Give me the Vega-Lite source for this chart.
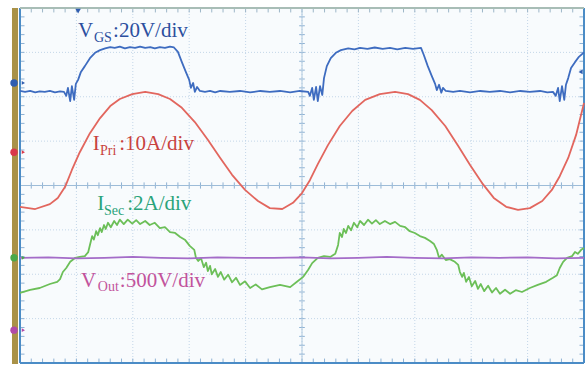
{
  "$schema": "https://vega.github.io/schema/vega-lite/v6.json",
  "width": 564,
  "height": 355,
  "autosize": {"type": "none"},
  "padding": {"left": 20, "top": 8, "right": 3, "bottom": 2},
  "background": "#ffffff",
  "config": {"view": {"stroke": null, "fill": "#f8fbfd"}},
  "datasets": {
    "xt": [{"t":0},{"t":0.2},{"t":0.4},{"t":0.6},{"t":0.8},{"t":1},{"t":1.2},{"t":1.4},{"t":1.6},{"t":1.8},{"t":2},{"t":2.2},{"t":2.4},{"t":2.6},{"t":2.8},{"t":3},{"t":3.2},{"t":3.4},{"t":3.6},{"t":3.8},{"t":4},{"t":4.2},{"t":4.4},{"t":4.6},{"t":4.8},{"t":5},{"t":5.2},{"t":5.4},{"t":5.6},{"t":5.8},{"t":6},{"t":6.2},{"t":6.4},{"t":6.6},{"t":6.8},{"t":7},{"t":7.2},{"t":7.4},{"t":7.6},{"t":7.8},{"t":8},{"t":8.2},{"t":8.4},{"t":8.6},{"t":8.8},{"t":9},{"t":9.2},{"t":9.4},{"t":9.6},{"t":9.8},{"t":10}],
    "yt": [{"v":-4},{"v":-3.8},{"v":-3.6},{"v":-3.4},{"v":-3.2},{"v":-3},{"v":-2.8},{"v":-2.6},{"v":-2.4},{"v":-2.2},{"v":-2},{"v":-1.8},{"v":-1.6},{"v":-1.4},{"v":-1.2},{"v":-1},{"v":-0.8},{"v":-0.6},{"v":-0.4},{"v":-0.2},{"v":0},{"v":0.2},{"v":0.4},{"v":0.6},{"v":0.8},{"v":1},{"v":1.2},{"v":1.4},{"v":1.6},{"v":1.8},{"v":2},{"v":2.2},{"v":2.4},{"v":2.6},{"v":2.8},{"v":3},{"v":3.2},{"v":3.4},{"v":3.6},{"v":3.8},{"v":4}],
    "traces": [
      {"ch":"VGS","t":0,"v":2.13},{"ch":"VGS","t":0.09,"v":2.11},{"ch":"VGS","t":0.18,"v":2.13},{"ch":"VGS","t":0.27,"v":2.10},{"ch":"VGS","t":0.35,"v":2.12},{"ch":"VGS","t":0.44,"v":2.11},{"ch":"VGS","t":0.53,"v":2.13},{"ch":"VGS","t":0.62,"v":2.10},{"ch":"VGS","t":0.71,"v":2.12},{"ch":"VGS","t":0.78,"v":2.11},{"ch":"VGS","t":0.82,"v":2.02},{"ch":"VGS","t":0.85,"v":2.2},{"ch":"VGS","t":0.89,"v":1.9},{"ch":"VGS","t":0.92,"v":2.24},{"ch":"VGS","t":0.96,"v":1.93},{"ch":"VGS","t":0.99,"v":2.29},{"ch":"VGS","t":1.03,"v":2.38},{"ch":"VGS","t":1.08,"v":2.56},{"ch":"VGS","t":1.15,"v":2.69},{"ch":"VGS","t":1.24,"v":2.87},{"ch":"VGS","t":1.33,"v":2.99},{"ch":"VGS","t":1.42,"v":3.05},{"ch":"VGS","t":1.51,"v":3.09},{"ch":"VGS","t":1.6,"v":3.12},{"ch":"VGS","t":1.68,"v":3.10},{"ch":"VGS","t":1.77,"v":3.13},{"ch":"VGS","t":1.86,"v":3.09},{"ch":"VGS","t":1.95,"v":3.12},{"ch":"VGS","t":2.04,"v":3.10},{"ch":"VGS","t":2.13,"v":3.13},{"ch":"VGS","t":2.22,"v":3.10},{"ch":"VGS","t":2.31,"v":3.12},{"ch":"VGS","t":2.39,"v":3.09},{"ch":"VGS","t":2.48,"v":3.12},{"ch":"VGS","t":2.57,"v":3.10},{"ch":"VGS","t":2.66,"v":3.13},{"ch":"VGS","t":2.73,"v":3.11},{"ch":"VGS","t":2.80,"v":3.01},{"ch":"VGS","t":2.87,"v":2.78},{"ch":"VGS","t":2.94,"v":2.56},{"ch":"VGS","t":3.00,"v":2.38},{"ch":"VGS","t":3.03,"v":2.2},{"ch":"VGS","t":3.07,"v":2.31},{"ch":"VGS","t":3.10,"v":2.11},{"ch":"VGS","t":3.14,"v":2.22},{"ch":"VGS","t":3.19,"v":2.13},{"ch":"VGS","t":3.28,"v":2.11},{"ch":"VGS","t":3.37,"v":2.13},{"ch":"VGS","t":3.46,"v":2.10},{"ch":"VGS","t":3.55,"v":2.13},{"ch":"VGS","t":3.72,"v":2.11},{"ch":"VGS","t":3.90,"v":2.13},{"ch":"VGS","t":4.08,"v":2.10},{"ch":"VGS","t":4.26,"v":2.13},{"ch":"VGS","t":4.43,"v":2.11},{"ch":"VGS","t":4.61,"v":2.13},{"ch":"VGS","t":4.79,"v":2.10},{"ch":"VGS","t":4.96,"v":2.13},{"ch":"VGS","t":5.11,"v":2.11},{"ch":"VGS","t":5.14,"v":2.02},{"ch":"VGS","t":5.18,"v":2.2},{"ch":"VGS","t":5.21,"v":1.93},{"ch":"VGS","t":5.25,"v":2.22},{"ch":"VGS","t":5.28,"v":1.9},{"ch":"VGS","t":5.32,"v":2.24},{"ch":"VGS","t":5.36,"v":2.04},{"ch":"VGS","t":5.39,"v":2.42},{"ch":"VGS","t":5.44,"v":2.69},{"ch":"VGS","t":5.51,"v":2.87},{"ch":"VGS","t":5.60,"v":2.99},{"ch":"VGS","t":5.69,"v":3.05},{"ch":"VGS","t":5.82,"v":3.09},{"ch":"VGS","t":5.93,"v":3.07},{"ch":"VGS","t":6.03,"v":3.10},{"ch":"VGS","t":6.16,"v":3.08},{"ch":"VGS","t":6.29,"v":3.11},{"ch":"VGS","t":6.43,"v":3.08},{"ch":"VGS","t":6.56,"v":3.10},{"ch":"VGS","t":6.69,"v":3.07},{"ch":"VGS","t":6.83,"v":3.10},{"ch":"VGS","t":6.97,"v":3.08},{"ch":"VGS","t":7.11,"v":3.10},{"ch":"VGS","t":7.16,"v":2.94},{"ch":"VGS","t":7.23,"v":2.69},{"ch":"VGS","t":7.30,"v":2.47},{"ch":"VGS","t":7.36,"v":2.29},{"ch":"VGS","t":7.39,"v":2.15},{"ch":"VGS","t":7.43,"v":2.27},{"ch":"VGS","t":7.47,"v":2.09},{"ch":"VGS","t":7.50,"v":2.2},{"ch":"VGS","t":7.55,"v":2.13},{"ch":"VGS","t":7.68,"v":2.11},{"ch":"VGS","t":7.80,"v":2.13},{"ch":"VGS","t":7.98,"v":2.10},{"ch":"VGS","t":8.16,"v":2.13},{"ch":"VGS","t":8.33,"v":2.11},{"ch":"VGS","t":8.51,"v":2.13},{"ch":"VGS","t":8.69,"v":2.10},{"ch":"VGS","t":8.87,"v":2.13},{"ch":"VGS","t":9.04,"v":2.11},{"ch":"VGS","t":9.22,"v":2.13},{"ch":"VGS","t":9.35,"v":2.10},{"ch":"VGS","t":9.45,"v":2.11},{"ch":"VGS","t":9.50,"v":2.02},{"ch":"VGS","t":9.54,"v":2.2},{"ch":"VGS","t":9.57,"v":1.9},{"ch":"VGS","t":9.61,"v":2.24},{"ch":"VGS","t":9.65,"v":1.93},{"ch":"VGS","t":9.68,"v":2.27},{"ch":"VGS","t":9.72,"v":2.42},{"ch":"VGS","t":9.77,"v":2.65},{"ch":"VGS","t":9.84,"v":2.78},{"ch":"VGS","t":9.91,"v":2.9},{"ch":"VGS","t":10,"v":3.0},

      {"ch":"IPri","t":0,"v":-0.48},{"ch":"IPri","t":0.27,"v":-0.53},{"ch":"IPri","t":0.53,"v":-0.42},{"ch":"IPri","t":0.67,"v":-0.28},{"ch":"IPri","t":0.80,"v":-0.03},{"ch":"IPri","t":0.92,"v":0.35},{"ch":"IPri","t":1.06,"v":0.75},{"ch":"IPri","t":1.24,"v":1.18},{"ch":"IPri","t":1.42,"v":1.52},{"ch":"IPri","t":1.60,"v":1.79},{"ch":"IPri","t":1.77,"v":1.95},{"ch":"IPri","t":1.99,"v":2.06},{"ch":"IPri","t":2.22,"v":2.11},{"ch":"IPri","t":2.45,"v":2.06},{"ch":"IPri","t":2.66,"v":1.95},{"ch":"IPri","t":2.87,"v":1.75},{"ch":"IPri","t":3.10,"v":1.43},{"ch":"IPri","t":3.33,"v":1.03},{"ch":"IPri","t":3.55,"v":0.62},{"ch":"IPri","t":3.76,"v":0.24},{"ch":"IPri","t":3.99,"v":-0.10},{"ch":"IPri","t":4.22,"v":-0.35},{"ch":"IPri","t":4.43,"v":-0.51},{"ch":"IPri","t":4.65,"v":-0.53},{"ch":"IPri","t":4.84,"v":-0.39},{"ch":"IPri","t":5.00,"v":-0.17},{"ch":"IPri","t":5.14,"v":0.12},{"ch":"IPri","t":5.28,"v":0.48},{"ch":"IPri","t":5.46,"v":0.91},{"ch":"IPri","t":5.67,"v":1.34},{"ch":"IPri","t":5.89,"v":1.68},{"ch":"IPri","t":6.12,"v":1.93},{"ch":"IPri","t":6.38,"v":2.06},{"ch":"IPri","t":6.65,"v":2.11},{"ch":"IPri","t":6.88,"v":2.06},{"ch":"IPri","t":7.09,"v":1.93},{"ch":"IPri","t":7.30,"v":1.70},{"ch":"IPri","t":7.54,"v":1.34},{"ch":"IPri","t":7.77,"v":0.89},{"ch":"IPri","t":7.98,"v":0.46},{"ch":"IPri","t":8.19,"v":0.06},{"ch":"IPri","t":8.40,"v":-0.28},{"ch":"IPri","t":8.62,"v":-0.48},{"ch":"IPri","t":8.83,"v":-0.55},{"ch":"IPri","t":9.04,"v":-0.51},{"ch":"IPri","t":9.26,"v":-0.35},{"ch":"IPri","t":9.43,"v":-0.10},{"ch":"IPri","t":9.57,"v":0.21},{"ch":"IPri","t":9.72,"v":0.62},{"ch":"IPri","t":9.86,"v":1.14},{"ch":"IPri","t":10,"v":1.86},

      {"ch":"ISec","t":0,"v":-2.42},{"ch":"ISec","t":0.18,"v":-2.35},{"ch":"ISec","t":0.35,"v":-2.31},{"ch":"ISec","t":0.53,"v":-2.22},{"ch":"ISec","t":0.66,"v":-2.17},{"ch":"ISec","t":0.71,"v":-2.11},{"ch":"ISec","t":0.76,"v":-1.95},{"ch":"ISec","t":0.82,"v":-1.86},{"ch":"ISec","t":0.89,"v":-1.72},{"ch":"ISec","t":0.98,"v":-1.63},{"ch":"ISec","t":1.06,"v":-1.61},{"ch":"ISec","t":1.15,"v":-1.59},{"ch":"ISec","t":1.21,"v":-1.50},{"ch":"ISec","t":1.24,"v":-1.34},{"ch":"ISec","t":1.28,"v":-1.14},{"ch":"ISec","t":1.31,"v":-1.22},{"ch":"ISec","t":1.35,"v":-1.03},{"ch":"ISec","t":1.38,"v":-1.12},{"ch":"ISec","t":1.42,"v":-0.96},{"ch":"ISec","t":1.45,"v":-1.05},{"ch":"ISec","t":1.49,"v":-0.89},{"ch":"ISec","t":1.52,"v":-0.98},{"ch":"ISec","t":1.56,"v":-0.84},{"ch":"ISec","t":1.61,"v":-0.94},{"ch":"ISec","t":1.67,"v":-0.80},{"ch":"ISec","t":1.72,"v":-0.89},{"ch":"ISec","t":1.77,"v":-0.77},{"ch":"ISec","t":1.84,"v":-0.87},{"ch":"ISec","t":1.91,"v":-0.77},{"ch":"ISec","t":1.99,"v":-0.86},{"ch":"ISec","t":2.06,"v":-0.78},{"ch":"ISec","t":2.13,"v":-0.87},{"ch":"ISec","t":2.22,"v":-0.80},{"ch":"ISec","t":2.30,"v":-0.89},{"ch":"ISec","t":2.39,"v":-0.84},{"ch":"ISec","t":2.48,"v":-0.96},{"ch":"ISec","t":2.57,"v":-0.94},{"ch":"ISec","t":2.66,"v":-1.05},{"ch":"ISec","t":2.75,"v":-1.07},{"ch":"ISec","t":2.84,"v":-1.16},{"ch":"ISec","t":2.93,"v":-1.23},{"ch":"ISec","t":3.01,"v":-1.36},{"ch":"ISec","t":3.09,"v":-1.45},{"ch":"ISec","t":3.12,"v":-1.63},{"ch":"ISec","t":3.16,"v":-1.70},{"ch":"ISec","t":3.21,"v":-1.64},{"ch":"ISec","t":3.26,"v":-1.84},{"ch":"ISec","t":3.30,"v":-1.74},{"ch":"ISec","t":3.33,"v":-1.93},{"ch":"ISec","t":3.37,"v":-1.81},{"ch":"ISec","t":3.40,"v":-2.00},{"ch":"ISec","t":3.46,"v":-1.88},{"ch":"ISec","t":3.51,"v":-2.06},{"ch":"ISec","t":3.56,"v":-1.95},{"ch":"ISec","t":3.62,"v":-2.12},{"ch":"ISec","t":3.69,"v":-2.01},{"ch":"ISec","t":3.76,"v":-2.18},{"ch":"ISec","t":3.83,"v":-2.08},{"ch":"ISec","t":3.90,"v":-2.24},{"ch":"ISec","t":3.99,"v":-2.16},{"ch":"ISec","t":4.08,"v":-2.31},{"ch":"ISec","t":4.18,"v":-2.23},{"ch":"ISec","t":4.29,"v":-2.34},{"ch":"ISec","t":4.43,"v":-2.29},{"ch":"ISec","t":4.61,"v":-2.24},{"ch":"ISec","t":4.79,"v":-2.29},{"ch":"ISec","t":4.91,"v":-2.17},{"ch":"ISec","t":5.02,"v":-2.06},{"ch":"ISec","t":5.11,"v":-1.90},{"ch":"ISec","t":5.18,"v":-1.75},{"ch":"ISec","t":5.28,"v":-1.63},{"ch":"ISec","t":5.39,"v":-1.59},{"ch":"ISec","t":5.50,"v":-1.61},{"ch":"ISec","t":5.59,"v":-1.54},{"ch":"ISec","t":5.64,"v":-1.34},{"ch":"ISec","t":5.67,"v":-1.07},{"ch":"ISec","t":5.71,"v":-1.16},{"ch":"ISec","t":5.74,"v":-0.98},{"ch":"ISec","t":5.78,"v":-1.07},{"ch":"ISec","t":5.82,"v":-0.91},{"ch":"ISec","t":5.87,"v":-1.01},{"ch":"ISec","t":5.92,"v":-0.84},{"ch":"ISec","t":5.98,"v":-0.94},{"ch":"ISec","t":6.03,"v":-0.80},{"ch":"ISec","t":6.10,"v":-0.89},{"ch":"ISec","t":6.17,"v":-0.77},{"ch":"ISec","t":6.24,"v":-0.86},{"ch":"ISec","t":6.31,"v":-0.78},{"ch":"ISec","t":6.38,"v":-0.87},{"ch":"ISec","t":6.47,"v":-0.80},{"ch":"ISec","t":6.56,"v":-0.87},{"ch":"ISec","t":6.65,"v":-0.82},{"ch":"ISec","t":6.74,"v":-0.91},{"ch":"ISec","t":6.83,"v":-0.94},{"ch":"ISec","t":6.91,"v":-1.03},{"ch":"ISec","t":7.00,"v":-1.07},{"ch":"ISec","t":7.09,"v":-1.14},{"ch":"ISec","t":7.18,"v":-1.18},{"ch":"ISec","t":7.27,"v":-1.25},{"ch":"ISec","t":7.34,"v":-1.32},{"ch":"ISec","t":7.39,"v":-1.45},{"ch":"ISec","t":7.43,"v":-1.63},{"ch":"ISec","t":7.48,"v":-1.56},{"ch":"ISec","t":7.55,"v":-1.68},{"ch":"ISec","t":7.62,"v":-1.66},{"ch":"ISec","t":7.71,"v":-1.72},{"ch":"ISec","t":7.77,"v":-1.79},{"ch":"ISec","t":7.80,"v":-1.95},{"ch":"ISec","t":7.84,"v":-2.06},{"ch":"ISec","t":7.87,"v":-1.97},{"ch":"ISec","t":7.91,"v":-2.17},{"ch":"ISec","t":7.96,"v":-2.06},{"ch":"ISec","t":8.01,"v":-2.27},{"ch":"ISec","t":8.07,"v":-2.15},{"ch":"ISec","t":8.12,"v":-2.33},{"ch":"ISec","t":8.17,"v":-2.22},{"ch":"ISec","t":8.23,"v":-2.38},{"ch":"ISec","t":8.30,"v":-2.26},{"ch":"ISec","t":8.37,"v":-2.41},{"ch":"ISec","t":8.44,"v":-2.31},{"ch":"ISec","t":8.51,"v":-2.44},{"ch":"ISec","t":8.60,"v":-2.35},{"ch":"ISec","t":8.69,"v":-2.44},{"ch":"ISec","t":8.79,"v":-2.36},{"ch":"ISec","t":8.90,"v":-2.40},{"ch":"ISec","t":9.04,"v":-2.31},{"ch":"ISec","t":9.18,"v":-2.24},{"ch":"ISec","t":9.33,"v":-2.17},{"ch":"ISec","t":9.45,"v":-2.08},{"ch":"ISec","t":9.52,"v":-2.02},{"ch":"ISec","t":9.57,"v":-1.86},{"ch":"ISec","t":9.63,"v":-1.72},{"ch":"ISec","t":9.70,"v":-1.63},{"ch":"ISec","t":9.79,"v":-1.59},{"ch":"ISec","t":9.84,"v":-1.50},{"ch":"ISec","t":9.89,"v":-1.54},{"ch":"ISec","t":9.95,"v":-1.45},{"ch":"ISec","t":10,"v":-1.41},

      {"ch":"VOut","t":0,"v":-1.63},{"ch":"VOut","t":0.5,"v":-1.62},{"ch":"VOut","t":1,"v":-1.64},{"ch":"VOut","t":1.5,"v":-1.63},{"ch":"VOut","t":2,"v":-1.61},{"ch":"VOut","t":2.5,"v":-1.63},{"ch":"VOut","t":3,"v":-1.64},{"ch":"VOut","t":3.5,"v":-1.62},{"ch":"VOut","t":4,"v":-1.63},{"ch":"VOut","t":4.5,"v":-1.63},{"ch":"VOut","t":5,"v":-1.62},{"ch":"VOut","t":5.5,"v":-1.64},{"ch":"VOut","t":6,"v":-1.63},{"ch":"VOut","t":6.5,"v":-1.61},{"ch":"VOut","t":7,"v":-1.63},{"ch":"VOut","t":7.5,"v":-1.64},{"ch":"VOut","t":8,"v":-1.62},{"ch":"VOut","t":8.5,"v":-1.63},{"ch":"VOut","t":9,"v":-1.62},{"ch":"VOut","t":9.5,"v":-1.64},{"ch":"VOut","t":10,"v":-1.63}
    ],
    "labMain": [
      {"k":"VGS","txt":"V","x":1.03,"y":3.35},{"k":"VGS","txt":":20V/div","x":1.65,"y":3.35},
      {"k":"IPri","txt":"I","x":1.29,"y":0.80},{"k":"IPri","txt":":10A/div","x":1.76,"y":0.80},
      {"k":"ISec","txt":"I","x":1.37,"y":-0.55},{"k":"ISec","txt":":2A/div","x":1.90,"y":-0.55},
      {"k":"VOut","txt":"V","x":1.08,"y":-2.29},{"k":"VOut","txt":":500V/div","x":1.77,"y":-2.29}
    ],
    "labSub": [
      {"k":"VGS","txt":"GS","x":1.31,"y":3.23},
      {"k":"IPri","txt":"Pri","x":1.42,"y":0.69},
      {"k":"ISec","txt":"Sec","x":1.49,"y":-0.66},
      {"k":"VOut","txt":"Out","x":1.38,"y":-2.38}
    ],
    "markers": [
      {"k":"VGS","x":-0.106,"y":2.31},
      {"k":"IPri","x":-0.106,"y":0.75},
      {"k":"ISec","x":-0.106,"y":-1.63},
      {"k":"VOut","x":-0.106,"y":-3.26}
    ],
    "bar": [{"x":-0.142,"x2":-0.035,"y":-4.02,"y2":4}]
  },
  "resolve": {"scale": {"color": "independent"}},
  "layer": [
    {
      "data": {"name": "xt"},
      "mark": {"type": "rule", "color": "#c3d6e8", "strokeWidth": 1, "strokeDash": [1, 2]},
      "transform": [{"filter": "datum.t > 0 && datum.t < 10 && datum.t % 1 == 0"}],
      "encoding": {
        "x": {"field": "t", "type": "quantitative", "scale": {"domain": [0, 10], "nice": false, "zero": false}, "axis": null},
        "y": {"datum": -4, "type": "quantitative", "scale": {"domain": [-4, 4], "nice": false, "zero": false}, "axis": null},
        "y2": {"datum": 4}
      }
    },
    {
      "data": {"name": "yt"},
      "mark": {"type": "rule", "color": "#c3d6e8", "strokeWidth": 1, "strokeDash": [1, 2]},
      "transform": [{"filter": "datum.v > -4 && datum.v < 4 && abs(datum.v % 1) < 0.01"}],
      "encoding": {
        "y": {"field": "v", "type": "quantitative"},
        "x": {"datum": 0, "type": "quantitative"},
        "x2": {"datum": 10}
      }
    },
    {
      "data": {"name": "xt"},
      "mark": {"type": "rule", "color": "#8fb2d4", "strokeWidth": 1},
      "encoding": {"x": {"field": "t", "type": "quantitative"}, "y": {"datum": -0.07, "type": "quantitative"}, "y2": {"datum": 0.07}}
    },
    {
      "data": {"name": "xt"},
      "mark": {"type": "rule", "color": "#8fb2d4", "strokeWidth": 1},
      "encoding": {"x": {"field": "t", "type": "quantitative"}, "y": {"datum": -4, "type": "quantitative"}, "y2": {"datum": -3.9}}
    },
    {
      "data": {"name": "xt"},
      "mark": {"type": "rule", "color": "#9db6c8", "strokeWidth": 1},
      "encoding": {"x": {"field": "t", "type": "quantitative"}, "y": {"datum": 4, "type": "quantitative"}, "y2": {"datum": 3.9}}
    },
    {
      "data": {"name": "yt"},
      "mark": {"type": "rule", "color": "#8fb2d4", "strokeWidth": 1},
      "encoding": {"y": {"field": "v", "type": "quantitative"}, "x": {"datum": 4.95, "type": "quantitative"}, "x2": {"datum": 5.05}}
    },
    {
      "data": {"name": "yt"},
      "mark": {"type": "rule", "color": "#8fb2d4", "strokeWidth": 1},
      "encoding": {"y": {"field": "v", "type": "quantitative"}, "x": {"datum": 0, "type": "quantitative"}, "x2": {"datum": 0.08}}
    },
    {
      "data": {"name": "yt"},
      "mark": {"type": "rule", "color": "#8fb2d4", "strokeWidth": 1},
      "encoding": {"y": {"field": "v", "type": "quantitative"}, "x": {"datum": 9.92, "type": "quantitative"}, "x2": {"datum": 10}}
    },
    {
      "data": {"values": [{"a": 0}]},
      "mark": {"type": "rule", "color": "#9dbcd8", "strokeWidth": 1},
      "encoding": {"y": {"datum": 0, "type": "quantitative"}, "x": {"datum": 0, "type": "quantitative"}, "x2": {"datum": 10}}
    },
    {
      "data": {"values": [{"a": 0}]},
      "mark": {"type": "rule", "color": "#b0c9de", "strokeWidth": 1},
      "encoding": {"x": {"datum": 5, "type": "quantitative"}, "y": {"datum": -4, "type": "quantitative"}, "y2": {"datum": 4}}
    },
    {
      "data": {"name": "bar"},
      "mark": {"type": "rect", "color": "#a99248"},
      "encoding": {"x": {"field": "x", "type": "quantitative"}, "x2": {"field": "x2"}, "y": {"field": "y", "type": "quantitative"}, "y2": {"field": "y2"}}
    },
    {
      "data": {"values": [{"a": 0}]},
      "mark": {"type": "rule", "color": "#4b8cc6", "strokeWidth": 2},
      "encoding": {"x": {"datum": 0, "type": "quantitative"}, "y": {"datum": -4, "type": "quantitative"}, "y2": {"datum": 4}}
    },
    {
      "data": {"values": [{"a": 0}]},
      "mark": {"type": "rule", "color": "#4b8cc6", "strokeWidth": 2},
      "encoding": {"x": {"datum": 10, "type": "quantitative"}, "y": {"datum": -4, "type": "quantitative"}, "y2": {"datum": 4}}
    },
    {
      "data": {"values": [{"a": 0}]},
      "mark": {"type": "rule", "color": "#4b8cc6", "strokeWidth": 2},
      "encoding": {"y": {"datum": -4, "type": "quantitative"}, "x": {"datum": 0, "type": "quantitative"}, "x2": {"datum": 10}}
    },
    {
      "data": {"values": [{"a": 0}]},
      "mark": {"type": "rule", "color": "#a8bdb6", "strokeWidth": 2},
      "encoding": {"y": {"datum": 4, "type": "quantitative"}, "x": {"datum": 0, "type": "quantitative"}, "x2": {"datum": 10}}
    },
    {
      "data": {"name": "traces"},
      "mark": {"type": "line", "strokeWidth": 1.8, "interpolate": "linear", "strokeJoin": "round"},
      "encoding": {
        "x": {"field": "t", "type": "quantitative"},
        "y": {"field": "v", "type": "quantitative"},
        "color": {"field": "ch", "type": "nominal", "legend": null,
          "scale": {"domain": ["VGS", "IPri", "ISec", "VOut"], "range": ["#3e6cc0", "#e2665e", "#6cbf58", "#a46cc8"]}},
        "order": {"field": "t", "type": "quantitative"}
      }
    },
    {
      "data": {"name": "markers"},
      "mark": {"type": "point", "filled": true, "size": 55, "opacity": 1},
      "encoding": {
        "x": {"field": "x", "type": "quantitative"},
        "y": {"field": "y", "type": "quantitative"},
        "color": {"field": "k", "type": "nominal", "legend": null,
          "scale": {"domain": ["VGS", "IPri", "ISec", "VOut"], "range": ["#2f5db0", "#d9384a", "#4aa84a", "#b04aa8"]}}
      }
    },
    {
      "data": {"name": "markers"},
      "mark": {"type": "point", "filled": true, "size": 14, "shape": "triangle-right", "opacity": 1},
      "encoding": {
        "x": {"datum": 0.06, "type": "quantitative"},
        "y": {"field": "y", "type": "quantitative"},
        "color": {"field": "k", "type": "nominal", "legend": null,
          "scale": {"domain": ["VGS", "IPri", "ISec", "VOut"], "range": ["#2f5db0", "#d9384a", "#4aa84a", "#b04aa8"]}}
      }
    },
    {
      "data": {"values": [{"x": 1.03, "y": 3.93}]},
      "mark": {"type": "point", "filled": true, "size": 30, "shape": "triangle-down", "color": "#2f5db0", "opacity": 1},
      "encoding": {"x": {"field": "x", "type": "quantitative"}, "y": {"field": "y", "type": "quantitative"}}
    },
    {
      "data": {"values": [{"x": 9.94, "y": 2.56}]},
      "mark": {"type": "point", "filled": true, "size": 22, "shape": "triangle-left", "color": "#2f5db0", "opacity": 1},
      "encoding": {"x": {"field": "x", "type": "quantitative"}, "y": {"field": "y", "type": "quantitative"}}
    },
    {
      "data": {"name": "labMain"},
      "mark": {"type": "text", "font": "Liberation Serif", "fontSize": 21, "align": "left", "baseline": "alphabetic"},
      "encoding": {
        "x": {"field": "x", "type": "quantitative"},
        "y": {"field": "y", "type": "quantitative"},
        "text": {"field": "txt"},
        "color": {"field": "k", "type": "nominal", "legend": null,
          "scale": {"domain": ["VGS", "IPri", "ISec", "VOut"], "range": ["#2c4f9f", "#c8433f", "#2aa37a", "#c2539c"]}}
      }
    },
    {
      "data": {"name": "labSub"},
      "mark": {"type": "text", "font": "Liberation Serif", "fontSize": 14, "align": "left", "baseline": "alphabetic"},
      "encoding": {
        "x": {"field": "x", "type": "quantitative"},
        "y": {"field": "y", "type": "quantitative"},
        "text": {"field": "txt"},
        "color": {"field": "k", "type": "nominal", "legend": null,
          "scale": {"domain": ["VGS", "IPri", "ISec", "VOut"], "range": ["#2c4f9f", "#c8433f", "#2aa37a", "#c2539c"]}}
      }
    }
  ]
}
